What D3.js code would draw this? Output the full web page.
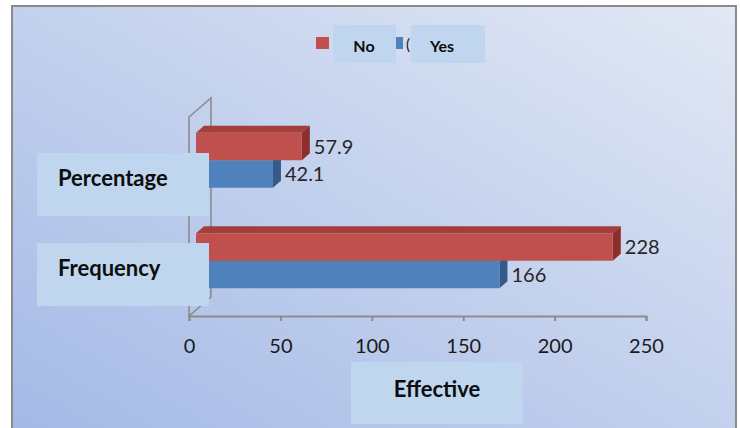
<!DOCTYPE html>
<html>
<head>
<meta charset="utf-8">
<script src="https://cdn.jsdelivr.net/npm/d3@7"></script>
<style>
  html, body { margin: 0; padding: 0; background: #ffffff; }
  svg { display: block; }
  text { font-family: Lato, "Open Sans", "Liberation Sans", sans-serif; }
</style>
</head>
<body>
<div id="chart"></div>
<script>
// Categories and series
const categories = ["Percentage", "Frequency"];
const seriesNames = ["No", "Yes"];
const noValues = [57.9, 228];
const yesValues = [42.1, 166];
const tickValues = [0, 50, 100, 150, 200, 250];
const axisTitle = "Effective";

const W = 740, H = 428;
const svg = d3.select("#chart").append("svg").attr("width", W).attr("height", H);

// Background gradient panel
const defs = svg.append("defs");
const grad = defs.append("linearGradient").attr("id", "bg")
  .attr("x1", "0%").attr("y1", "100%").attr("x2", "100%").attr("y2", "0%");
grad.append("stop").attr("offset", "0%").attr("stop-color", "#a4b9e6");
grad.append("stop").attr("offset", "55%").attr("stop-color", "#c6d3ee");
grad.append("stop").attr("offset", "100%").attr("stop-color", "#e2e8f4");

svg.append("rect").attr("x", 12).attr("y", 6).attr("width", 724).attr("height", 424)
  .attr("fill", "url(#bg)").attr("stroke", "#8a8a8a").attr("stroke-width", 2);

// Scales
const x = d3.scaleLinear().domain([0, 250]).range([189, 646]);
const y = d3.scaleBand().domain(categories).range([110, 311]);
const sub = d3.scaleBand().domain(seriesNames).range([-27.5, 27.5]);
// category label boxes sit on their own, slightly tighter spacing
const labelY = d3.scalePoint().domain(categories).range([153, 243]);

const axisY = 316;
const wallDx = 22, wallDy = -19;   // depth of the side wall
const barShift = 7;                // bars sit slightly behind the front plane
const dDx = 8, dDy = -7;           // bar depth

const color = {
  No:  { front: "#c0504d", top: "#a23e3b", side: "#8c2f2c" },
  Yes: { front: "#4f81bd", top: "#3d6aa3", side: "#345a8a" }
};

// Side wall outline
const wallTop = 117;
svg.append("path")
  .attr("d", `M${x(0)},${axisY} L${x(0)},${wallTop} L${x(0) + wallDx},${wallTop + wallDy} L${x(0) + wallDx},${axisY + wallDy} Z`)
  .attr("fill", "none").attr("stroke", "#8c8c8c").attr("stroke-width", 1.6);

// Axis
const axis = d3.axisBottom(x).tickValues(tickValues).tickSize(5).tickPadding(18).tickFormat(d3.format("d"));
const gAxis = svg.append("g").attr("transform", `translate(0,${axisY})`).call(axis);
gAxis.select(".domain").attr("stroke", "#8c8c8c").attr("stroke-width", 2);
gAxis.selectAll(".tick line").attr("stroke", "#8c8c8c").attr("stroke-width", 2);
gAxis.selectAll(".tick text").attr("font-size", 20).attr("fill", "#1a1a1a")
  .style("font-family", "Lato, 'Open Sans', sans-serif");

// Bars (3D look: front, top, side faces)
const rows = [];
categories.forEach((c, i) => {
  rows.push({ cat: c, s: "Yes", v: yesValues[i] });
  rows.push({ cat: c, s: "No", v: noValues[i] });
});
// draw Yes before No so the red top face overlaps properly
const gb = svg.append("g");
rows.forEach(r => {
  const cy = y(r.cat) + y.bandwidth() / 2;
  const y0 = cy + sub(r.s), h = sub.bandwidth();
  const x0 = x(0) + barShift, x1 = x(r.v) + barShift;
  const col = color[r.s];
  gb.append("path").attr("fill", col.top)
    .attr("d", `M${x0},${y0} L${x0 + dDx},${y0 + dDy} L${x1 + dDx},${y0 + dDy} L${x1},${y0} Z`);
  gb.append("path").attr("fill", col.side)
    .attr("d", `M${x1},${y0} L${x1 + dDx},${y0 + dDy} L${x1 + dDx},${y0 + h + dDy} L${x1},${y0 + h} Z`);
  gb.append("rect").attr("x", x0).attr("y", y0).attr("width", x1 - x0).attr("height", h)
    .attr("fill", col.front);
  gb.append("text").attr("x", x1 + dDx + 4).attr("y", y0 + h / 2 + 2)
    .attr("dominant-baseline", "middle").attr("font-size", 20).attr("fill", "#262626")
    .text(r.v);
});

// Category label boxes
categories.forEach(c => {
  const top = labelY(c);
  svg.append("rect").attr("x", 37).attr("y", top).attr("width", 172).attr("height", 63)
    .attr("fill", "#bfd6ee");
  svg.append("text").attr("x", 58).attr("y", top + 33).attr("font-size", 22)
    .attr("font-weight", "bold").attr("fill", "#0d0d0d").text(c);
});

// Axis title box
svg.append("rect").attr("x", 351).attr("y", 362).attr("width", 172).attr("height", 62).attr("fill", "#bfd6ee");
svg.append("text").attr("x", 437).attr("y", 397).attr("text-anchor", "middle").attr("font-size", 22)
  .attr("font-weight", "bold").attr("fill", "#0d0d0d").text(axisTitle);

// Legend
const leg = svg.append("g");
leg.append("rect").attr("x", 316).attr("y", 37).attr("width", 13).attr("height", 12).attr("fill", color.No.front);
leg.append("rect").attr("x", 333).attr("y", 25).attr("width", 63).attr("height", 38).attr("fill", "#bfd6ee");
leg.append("text").attr("x", 364).attr("y", 52).attr("text-anchor", "middle").attr("font-size", 16)
  .attr("font-weight", "bold").attr("fill", "#0d0d0d").text(seriesNames[0]);
leg.append("rect").attr("x", 396).attr("y", 37).attr("width", 7).attr("height", 12).attr("fill", color.Yes.front);
leg.append("text").attr("x", 406).attr("y", 50).attr("font-size", 15).attr("fill", "#1a1a1a").text("(");
leg.append("rect").attr("x", 411).attr("y", 25).attr("width", 74).attr("height", 38).attr("fill", "#bfd6ee");
leg.append("text").attr("x", 442).attr("y", 52).attr("text-anchor", "middle").attr("font-size", 16)
  .attr("font-weight", "bold").attr("fill", "#0d0d0d").text(seriesNames[1]);
</script>
</body>
</html>
